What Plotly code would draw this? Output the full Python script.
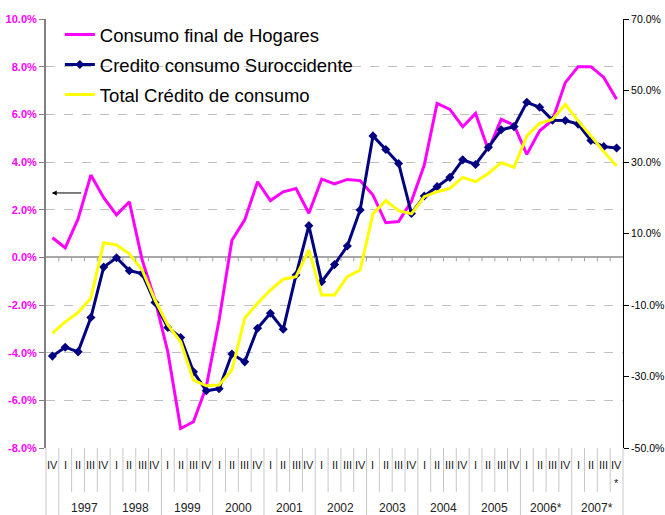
import plotly.graph_objects as go

quarters = ["IV"] + ["I", "II", "III", "IV"] * 11
years = ["1997", "1998", "1999", "2000", "2001", "2002", "2003", "2004", "2005", "2006*", "2007*"]

consumo_hogares = [0.82, 0.40, 1.61, 3.45, 2.50, 1.78, 2.33, -0.11, -1.79, -3.96, -7.18,
                   -6.90, -5.43, -2.63, 0.72, 1.57, 3.17, 2.38, 2.75, 2.89, 1.85, 3.28,
                   3.08, 3.27, 3.22, 2.61, 1.45, 1.50, 2.35, 3.87, 6.46, 6.21, 5.48, 6.04,
                   4.50, 5.79, 5.55, 4.32, 5.31, 5.76, 7.33, 8.00, 8.00, 7.55, 6.63]
credito_suroccidente = [-24.3, -21.8, -23.1, -13.5, 0.6, 3.2, -0.4, -1.2, -9.3, -16.3, -19.1,
                        -28.7, -34.0, -33.4, -23.7, -25.9, -16.5, -12.3, -16.8, -1.6, 12.2, -3.5,
                        1.3, 6.5, 16.6, 37.3, 33.5, 29.6, 15.6, 20.5, 23.1, 25.7, 30.6, 29.3,
                        34.1, 39.0, 39.9, 46.7, 45.3, 41.7, 41.6, 40.6, 36.0, 34.3, 33.9]
total_credito = [-17.9, -14.7, -12.1, -8.1, 7.4, 6.8, 4.3, -0.2, -8.6, -15.6, -20.3,
                 -31.0, -32.6, -32.4, -28.2, -13.7, -9.5, -5.8, -2.8, -2.1, 5.4, -7.2,
                 -7.2, -2.1, -0.2, 15.5, 19.2, 16.4, 15.5, 20.3, 21.7, 22.6, 25.7, 24.5,
                 26.8, 29.8, 28.5, 37.3, 40.8, 41.9, 46.1, 41.5, 37.3, 32.9, 28.9]

left_ticks = [10, 8, 6, 4, 2, 0, -2, -4, -6, -8]
left_labels = ["10.0%", "8.0%", "6.0%", "4.0%", "2.0%", "0.0%", "-2.0%", "-4.0%", "-6.0%", "-8.0%"]
right_ticks = [70, 50, 30, 10, -10, -30, -50]
right_labels = ["70.0%", "50.0%", "30.0%", "10.0%", "-10.0%", "-30.0%", "-50.0%"]

x = list(range(len(quarters)))
n = len(quarters)
FONT = "Arial, Liberation Sans, sans-serif"

fig = go.Figure()
fig.add_trace(go.Scatter(x=x, y=consumo_hogares, name="Consumo final de Hogares",
                         mode="lines", legendgroup="a", line=dict(color="#FF00FF", width=3)))
fig.add_trace(go.Scatter(x=x, y=credito_suroccidente, name="Credito consumo Suroccidente",
                         mode="lines+markers", yaxis="y2", legendgroup="b",
                         line=dict(color="#000080", width=3),
                         marker=dict(symbol="diamond", size=7, color="#000080")))
fig.add_trace(go.Scatter(x=x, y=total_credito, name="Total Crédito de consumo",
                         mode="lines", yaxis="y2", legendgroup="c",
                         line=dict(color="#FFFF00", width=3)))

H = 429.0
shapes = []
# category separators below plot
year_bounds = {0, 1} | {1 + 4 * k for k in range(1, 12)}
for k in range(n + 1):
    long_line = k in year_bounds or k == n
    shapes.append(dict(type="line", xref="paper", yref="paper",
                       x0=k / n, x1=k / n, y0=0, y1=-(67 if long_line else 44) / H,
                       line=dict(color="#C8C8C8", width=1)))
# small ticks on the zero line
zero_p = 8 / 18
for k in range(1, n):
    shapes.append(dict(type="line", xref="paper", yref="paper",
                       x0=k / n, x1=k / n, y0=zero_p, y1=zero_p - 4 / H,
                       line=dict(color="#A0A0A0", width=1)))

annotations = []
for i, q in enumerate(quarters):
    annotations.append(dict(x=i, y=0, xref="x", yref="paper", text=q, showarrow=False,
                            yshift=-17, yanchor="middle",
                            font=dict(family=FONT, size=11, color="#222")))
annotations.append(dict(x=n - 1, y=0, xref="x", yref="paper", text="*", showarrow=False,
                        yshift=-35, yanchor="middle", font=dict(family=FONT, size=11, color="#222")))
for j, yr in enumerate(years):
    annotations.append(dict(x=1 + 4 * j + 1.5, y=0, xref="x", yref="paper", text=yr,
                            showarrow=False, yshift=-60, yanchor="middle",
                            font=dict(family=FONT, size=12, color="#222")))
annotations.append(dict(x=-0.05, y=2.7, xref="x", yref="y", ax=31, ay=0,
                        axref="pixel", ayref="pixel", text="", showarrow=True,
                        arrowhead=2, arrowsize=1, arrowwidth=1, arrowcolor="black"))

fig.update_layout(
    width=665, height=515,
    margin=dict(l=46, r=42, t=19, b=67, autoexpand=False),
    paper_bgcolor="white", plot_bgcolor="white",
    showlegend=True,
    legend=dict(x=0.024, y=1.007, xanchor="left", yanchor="top",
                font=dict(family=FONT, size=18.5, color="black"),
                bgcolor="rgba(255,255,255,0)", tracegroupgap=3),
    xaxis=dict(range=[-0.5, n - 0.5], showgrid=False, zeroline=False, automargin=False,
               showticklabels=False, ticks="", showline=False),
    yaxis=dict(range=[-8, 10], tickvals=left_ticks, ticktext=left_labels, automargin=False,
               tickfont=dict(family=FONT, size=11, color="#FF00FF", weight="bold"),
               showgrid=True, gridcolor="#C0C0C0", griddash="dash", gridwidth=1,
               zeroline=True, zerolinecolor="#A8A8A8", zerolinewidth=1.5,
               showline=True, linecolor="#808080", linewidth=2,
               ticks="outside", ticklen=5, tickcolor="#808080"),
    yaxis2=dict(range=[-50, 70], overlaying="y", side="right", automargin=False,
                tickvals=right_ticks, ticktext=right_labels,
                tickfont=dict(family=FONT, size=10.5, color="black"),
                showgrid=False, zeroline=False, showline=True, linecolor="black",
                linewidth=1, ticks="outside", ticklen=5, tickcolor="black"),
    shapes=shapes,
    annotations=annotations,
)

fig.write_html(
    "out.html",
    config={"displayModeBar": False},
    post_script="document.body.style.margin='0';document.documentElement.style.overflow='hidden';",
)
